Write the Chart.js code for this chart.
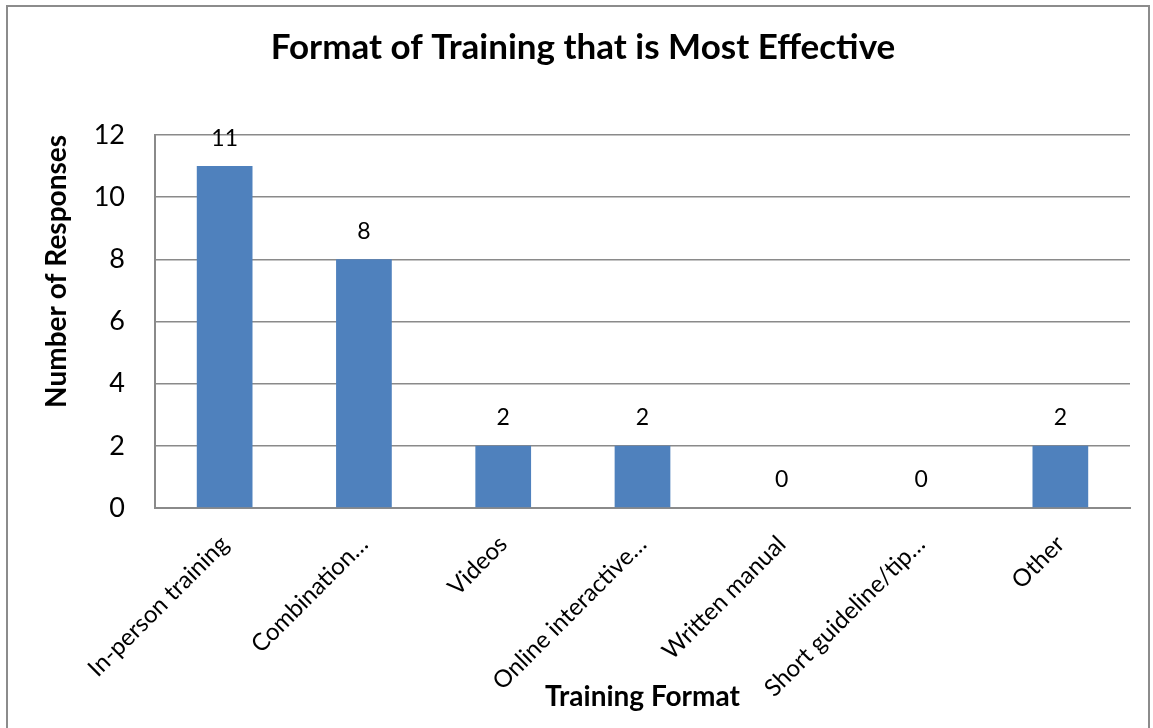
<!DOCTYPE html>
<html>
<head>
<meta charset="utf-8">
<title>Format of Training that is Most Effective</title>
<script src="https://cdn.jsdelivr.net/npm/chart.js@4"></script>
<style>
  html, body { margin: 0; padding: 0; background: #fff; overflow: hidden; }
  #wrap { position: relative; width: 1153px; height: 728px; }
  #chart { position: absolute; left: 0; top: 0; }
  #frame {
    position: absolute; left: 6px; top: 5px; width: 1140px; height: 740px;
    border: 2px solid #8c8c8c; pointer-events: none;
  }
</style>
</head>
<body>
<div id="wrap">
  <canvas id="chart" width="1153" height="728"></canvas>
  <div id="frame"></div>
</div>
<script>
// chart data
const categories = [
    'In-person training',
    'Combination\u2026',
    'Videos',
    'Online interactive\u2026',
    'Written manual',
    'Short guideline/tip\u2026',
    'Other'
];
const responses = [11, 8, 2, 2, 0, 0, 2];
const yTicks = [0, 2, 4, 6, 8, 10, 12];

const FONT = 'Lato, "Open Sans", sans-serif';
const BAR_BLUE = '#4F81BD';
const GRID_GREY = '#8a8a8a';

// draws the value above each bar (no datalabels plugin available offline)
const valueLabels = {
    id: 'valueLabels',
    afterDatasetsDraw(chart) {
        const ctx = chart.ctx;
        const meta = chart.getDatasetMeta(0);
        ctx.save();
        ctx.font = '23px ' + FONT;
        ctx.fillStyle = '#000';
        ctx.textAlign = 'center';
        ctx.textBaseline = 'middle';
        meta.data.forEach((bar, i) => {
            ctx.fillText(String(responses[i]), bar.x, bar.y - 28);
        });
        ctx.restore();
    }
};

new Chart(document.getElementById('chart').getContext('2d'), {
    type: 'bar',
    data: {
        labels: categories,
        datasets: [{
            data: responses,
            backgroundColor: BAR_BLUE,
            borderWidth: 0,
            categoryPercentage: 1,
            barPercentage: 0.4
        }]
    },
    options: {
        responsive: false,
        animation: false,
        events: [],
        layout: { padding: { left: 36, right: 23, top: 0, bottom: 10 } },
        plugins: {
            legend: { display: false },
            tooltip: { enabled: false },
            title: {
                display: true,
                text: 'Format of Training that is Most Effective',
                color: '#000',
                font: { family: FONT, size: 35, weight: 'bold' },
                padding: { top: 27, bottom: 66 }
            }
        },
        scales: {
            x: {
                grid: { display: false },
                border: { display: true, color: GRID_GREY, width: 2 },
                ticks: {
                    color: '#000',
                    font: { family: FONT, size: 24 },
                    maxRotation: 45,
                    minRotation: 45,
                    autoSkip: false,
                    padding: 14
                },
                title: {
                    display: true,
                    text: 'Training Format',
                    color: '#000',
                    font: { family: FONT, size: 28, weight: 'bold' },
                    padding: { top: 4, bottom: 4 }
                },
                afterFit(scale) { scale.height = 210; }
            },
            y: {
                min: 0,
                max: 12,
                afterBuildTicks(scale) { scale.ticks = yTicks.map(v => ({ value: v })); },
                grid: { color: GRID_GREY, lineWidth: 1.5, drawTicks: false },
                border: { display: true, color: GRID_GREY, width: 2 },
                ticks: {
                    color: '#000',
                    font: { family: FONT, size: 27 },
                    padding: 30
                },
                title: {
                    display: true,
                    text: 'Number of Responses',
                    align: 'end',
                    color: '#000',
                    font: { family: FONT, size: 28, weight: 'bold' },
                    padding: { top: 4, bottom: 4 }
                },
                afterFit(scale) { scale.width = 119; }
            }
        }
    },
    plugins: [valueLabels]
});
</script>
</body>
</html>
